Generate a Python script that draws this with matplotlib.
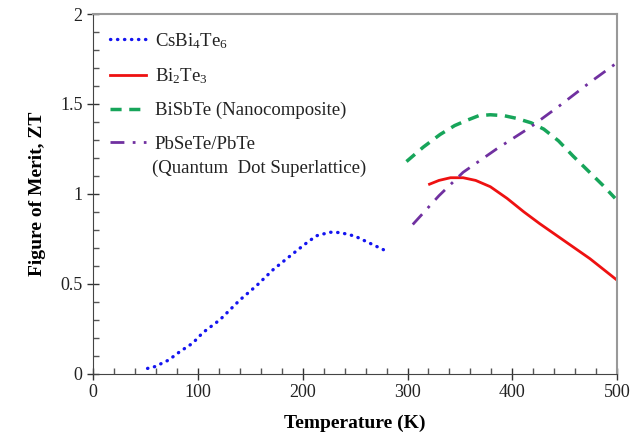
import numpy as np
import matplotlib
matplotlib.use("Agg")
import matplotlib.pyplot as plt
from matplotlib.ticker import MultipleLocator, FormatStrFormatter

plt.rcParams["font.family"] = ["Liberation Serif", "DejaVu Serif"]
plt.rcParams["mathtext.fontset"] = "custom"
plt.rcParams["mathtext.rm"] = "Liberation Serif"
plt.rcParams["mathtext.it"] = "Liberation Serif:italic"

# CsBi4Te6
cs_t = [52, 59, 72, 83, 95, 105, 121, 140, 156, 172, 188, 202, 213, 226, 236, 250, 264, 277]
cs_zt = [0.03, 0.04, 0.076, 0.124, 0.17, 0.23, 0.30, 0.41, 0.49, 0.58, 0.655, 0.72, 0.767, 0.787, 0.785, 0.765, 0.726, 0.69]

# Bi2Te3
bt_t = [321, 330, 341, 353, 365, 379, 395, 411, 426, 442, 458, 474, 487, 500]
bt_zt = [1.054, 1.075, 1.09, 1.09, 1.075, 1.04, 0.975, 0.90, 0.835, 0.77, 0.705, 0.64, 0.58, 0.52]

# BiSbTe (Nanocomposite)
bs_t = [299, 315, 331, 345, 357, 368, 379, 392, 404, 418, 430, 444, 458, 472, 486, 498]
bs_zt = [1.18, 1.26, 1.33, 1.38, 1.41, 1.435, 1.44, 1.435, 1.42, 1.395, 1.36, 1.295, 1.21, 1.13, 1.05, 0.976]

# PbSeTe/PbTe (Quantum Dot Superlattice)
pb_t = [305, 330, 353, 385, 417, 445, 474, 500]
pb_zt = [0.83, 0.99, 1.12, 1.25, 1.37, 1.49, 1.62, 1.73]

fig = plt.figure(figsize=(6.33, 4.45), dpi=100)
ax = fig.add_axes([0.147, 0.16, 0.828, 0.8085])

ax.plot(cs_t, cs_zt, color="#1414f0", linestyle=(0, (0.1, 2.0)), linewidth=2.4,
        dash_capstyle="round", label="CsBi$_4$Te$_6$")
ax.plot(bt_t, bt_zt, color="#ee1111", linewidth=2, label="Bi$_2$Te$_3$")
ax.plot(bs_t, bs_zt, color="#17a55a", linestyle=(0, (3.2, 2.2)), linewidth=2.5,
        label="BiSbTe (Nanocomposite)")
ax.plot(pb_t, pb_zt, color="#7030a0", linestyle=(0, (5, 3, 1, 3)), linewidth=2,
        label="PbSeTe/PbTe")

ax.set_xlim(0, 500)
ax.set_ylim(0, 2)
ax.xaxis.set_major_locator(MultipleLocator(100))
ax.xaxis.set_minor_locator(MultipleLocator(20))
ax.yaxis.set_major_locator(MultipleLocator(0.5))
ax.yaxis.set_minor_locator(MultipleLocator(0.1))
ax.yaxis.set_major_formatter(FormatStrFormatter("%g"))
ax.tick_params(which="major", direction="inout", length=8, width=1, labelsize=13,
               colors="#333333", labelcolor="#222222", top=False, right=False)
ax.tick_params(which="minor", direction="in", length=4, width=1, colors="#555555",
               top=False, right=False)

for s in ["left", "bottom"]:
    ax.spines[s].set_color("#444444")
for s in ["top", "right"]:
    ax.spines[s].set_color("#999999")
    ax.spines[s].set_linewidth(1.5)

ax.set_xlabel("Temperature (K)", fontsize=14, fontweight="bold", labelpad=10)
ax.set_ylabel("Figure of Merit, ZT", fontsize=14, fontweight="bold", labelpad=10)

leg = ax.legend(loc="upper left", frameon=False, fontsize=13.5, handlelength=1.9,
                handletextpad=0.5, labelspacing=0.85, borderaxespad=0.5,
                bbox_to_anchor=(0.0, 1.0))
for t in leg.get_texts():
    t.set_color("#222222")

# second line of the last legend entry
ax.text(0.112, 0.572, "(Quantum  Dot Superlattice)", transform=ax.transAxes,
        fontsize=13.5, color="#222222", va="center", ha="left")

fig.savefig("out.png", dpi=100)
